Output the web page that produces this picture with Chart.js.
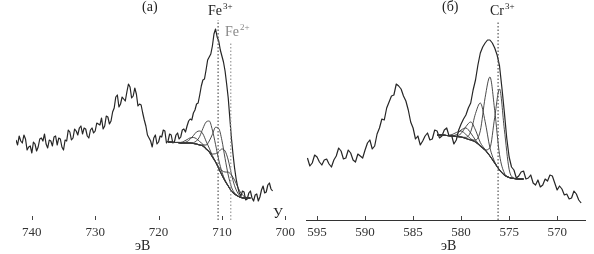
<!DOCTYPE html>
<html>
<head>
<meta charset="utf-8">
<script src="https://cdn.jsdelivr.net/npm/chart.js@4"></script>
<style>
  body { margin: 0; background: #fff; }
  #wrap { position: relative; width: 594px; height: 254px; font-family: 'Liberation Serif', serif; }
  canvas { position: absolute; top: 0; }
  .lbl { position: absolute; font-size: 14px; line-height: 14px; color: #222; white-space: nowrap; }
  .lbl sup { font-size: 9px; vertical-align: 0; position: relative; top: -6px; margin-left: 1px; }
</style>
</head>
<body>
<div id="wrap">
  <canvas id="fe" width="300" height="254" style="left:0"></canvas>
  <canvas id="cr" width="294" height="254" style="left:300px"></canvas>
  <div class="lbl" style="left:142px;top:0">(a)</div>
  <div class="lbl" style="left:208px;top:4px">Fe<sup>3+</sup></div>
  <div class="lbl" style="left:225px;top:25px;color:#888">Fe<sup>2+</sup></div>
  <div class="lbl" style="left:273px;top:207px">У</div>
  <div class="lbl" style="left:135px;top:239px">эВ</div>
  <div class="lbl" style="left:442px;top:0">(б)</div>
  <div class="lbl" style="left:490px;top:4px">Cr<sup>3+</sup></div>
  <div class="lbl" style="left:441px;top:239px">эВ</div>
</div>
<script>
// Fe 2p spectrum, 742.5 -> 702.0 eV, step 0.25
const feStart = 742.5
const feSpectrum = [
  80, 75, 84, 79, 77, 85, 81, 70, 73, 74, 67, 78, 76, 69, 73, 81, 82, 79, 86, 76,
  72, 80, 79, 74, 83, 84, 75, 82, 81, 73, 70, 80, 79, 90, 88, 80, 82, 91, 89, 85,
  92, 94, 86, 92, 91, 84, 82, 90, 92, 87, 89, 97, 96, 95, 102, 91, 94, 104, 103, 96,
  99, 108, 112, 123, 125, 113, 116, 123, 121, 119, 128, 136, 133, 122, 124, 132, 126, 114, 116, 115,
  107, 100, 94, 85, 82, 79, 73, 82, 85, 76, 78, 84, 83, 90, 89, 77, 79, 86, 85, 77,
  78, 85, 87, 81, 83, 90, 91, 88, 94, 99, 101, 100, 107, 110, 116, 117, 125, 134, 140, 141,
  150, 160, 163, 166, 174, 186, 191, 183, 179, 170, 164, 158, 149, 136, 122, 102, 82, 66, 52, 41,
  33, 27, 24, 29, 28, 20, 21, 27, 29, 22, 19, 25, 26, 19, 23, 30, 34, 27, 28, 35,
  37, 31, 29
]
// Fe fit components, 718.5 -> 705.5 eV, step 0.5
const feFitStart = 718.5
const feBackground = [78, 78, 77.5, 77.5, 77, 77, 77, 77, 76.5, 76, 75, 74, 71, 68, 63, 58, 51.5, 45, 39, 34, 29, 26, 24, 22.5, 22, 22, 22]
const feComponents = [
  [78, 78, 77.5, 77.7, 77.6, 78.7, 80.4, 82.2, 82.5, 81.2, 78.4, 75.7, 71.6, 68.2, 63, 58, 51.5, 45, 39, 34, 29, 26, 24, 22.5, 22, 22, 22],
  [78, 78, 77.5, 77.5, 77, 77.4, 78.4, 80.9, 84.4, 88.1, 89, 86.1, 78.9, 71.9, 64.4, 58.4, 51.5, 45, 39, 34, 29, 26, 24, 22.5, 22, 22, 22],
  [78, 78, 77.5, 77.5, 77, 77, 77, 77, 77.4, 79.1, 83.6, 91.5, 97.9, 99, 89.9, 75.5, 60.1, 48.1, 39.9, 34, 29, 26, 24, 22.5, 22, 22, 22],
  [78, 78, 77.5, 77.5, 77, 77, 77, 77, 76.5, 76, 75, 75.1, 75, 79, 85.6, 92.7, 91.5, 79.7, 61.6, 45, 33, 27.1, 24, 22.5, 22, 22, 22],
  [78, 78, 77.5, 77.5, 77, 77, 77, 77, 76.5, 76, 75, 74, 71, 68.8, 66, 66.3, 68.4, 71, 69, 60, 45.9, 34.3, 27, 23.3, 22, 22, 22],
  [78, 78, 77.5, 77.5, 77, 77, 77, 77, 76.5, 76, 75, 74, 71, 68, 63, 58.4, 53.1, 49.4, 48, 47.9, 45, 39.9, 33, 26.9, 23.6, 22.4, 22]
]
const feTicks = [740, 730, 720, 710, 700]
const feMarkers = { fe3: 710.6, fe2: 708.6 }

// Cr 2p spectrum, 596.0 -> 567.5 eV, step 0.25
const crStart = 596.0
const crSpectrum = [
  62, 54, 57, 65, 63, 58, 55, 60, 61, 56, 53, 60, 64, 72, 69, 61, 62, 70, 67, 60,
  58, 66, 64, 62, 70, 77, 80, 71, 74, 86, 92, 101, 100, 112, 118, 124, 125, 136, 134, 131,
  124, 119, 110, 98, 92, 81, 84, 75, 79, 84, 87, 80, 81, 90, 89, 82, 84, 90, 92, 84,
  85, 76, 80, 90, 96, 101, 105, 112, 117, 130, 140, 155, 167, 173, 177, 180, 180, 177, 172, 165,
  154, 132, 108, 82, 63, 53, 50, 42, 44, 48, 49, 41, 42, 45, 37, 35, 40, 33, 35, 41,
  39, 45, 44, 37, 30, 34, 31, 25, 26, 21, 22, 29, 26, 20, 17
]
// Cr fit components, 582.5 -> 573.5 eV, step 0.5
const crFitStart = 582.5
const crBackground = [85, 85, 84.5, 84, 83.5, 83, 81.5, 80, 78, 74, 70, 64, 57, 50, 45, 42.5, 41.5, 41, 41]
const crComponents = [
  [85, 85, 84.5, 84, 83.5, 83, 81.5, 80, 80, 89.3, 122.4, 143, 109.4, 65.3, 47, 42.5, 41.5, 41, 41],
  [85, 85, 84.5, 84, 83.5, 83, 81.5, 80, 78, 74, 70, 72.2, 102.7, 131, 90.7, 50.7, 42, 41, 41],
  [85, 85, 84.5, 84, 83.5, 83, 82.6, 88.3, 106.5, 117, 98.5, 72.3, 58.1, 50, 45, 42.5, 41.5, 41, 41],
  [85, 85, 84.5, 84, 84, 86.5, 93.4, 98, 89.9, 77.5, 70.5, 64, 57, 50, 45, 42.5, 41.5, 41, 41],
  [85, 85, 84.5, 84.3, 85.4, 90, 92, 87, 79.9, 74.3, 70, 64, 57, 50, 45, 42.5, 41.5, 41, 41],
  [85, 85, 84.5, 85.2, 87.5, 89, 85.5, 81.2, 78, 74, 70, 64, 57, 50, 45, 42.5, 41.5, 41, 41]
]
const crTicks = [595, 590, 585, 580, 575, 570]
const crMarker = 576.15

const toPoints = (vals, start, step) => vals.map((v, i) => ({ x: start - step * i, y: v }))

// tick marks point up into the plot
const innerTicks = {
  id: 'innerTicks',
  afterDraw(chart) {
    const sx = chart.scales.x, ctx = chart.ctx, b = chart.chartArea.bottom
    ctx.save()
    ctx.strokeStyle = '#444'
    ctx.lineWidth = 1
    sx.ticks.forEach(t => {
      const p = Math.round(sx.getPixelForValue(t.value)) + 0.5
      ctx.beginPath()
      ctx.moveTo(p, b)
      ctx.lineTo(p, b - 4)
      ctx.stroke()
    })
    ctx.restore()
  }
}

function spectrumSet(points) {
  return { data: points, borderColor: '#262626', borderWidth: 1.2, pointRadius: 0, tension: 0, borderJoinStyle: 'round' }
}
function fitSet(points, w) {
  return { data: points, borderColor: '#383838', borderWidth: w, pointRadius: 0, cubicInterpolationMode: 'monotone' }
}
function markerSet(x, top, color) {
  return { data: [{ x: x, y: 0 }, { x: x, y: top }], borderColor: color, borderWidth: 1.2, borderDash: [1.5, 2], pointRadius: 0 }
}

function makeChart(id, cfg) {
  return new Chart(document.getElementById(id), {
    type: 'line',
    data: { datasets: cfg.datasets },
    options: {
      responsive: false,
      animation: false,
      layout: { padding: cfg.padding },
      plugins: { legend: { display: false }, tooltip: { enabled: false } },
      scales: {
        x: {
          type: 'linear',
          reverse: true,
          min: cfg.min,
          max: cfg.max,
          afterBuildTicks: a => { a.ticks = cfg.ticks.map(v => ({ value: v })) },
          afterFit: a => { a.height = 34 },
          grid: { display: false, drawTicks: false },
          border: { display: cfg.axisLine, color: '#333', width: 1 },
          ticks: { padding: 5, color: '#333', autoSkip: false, maxRotation: 0, font: { family: 'Liberation Serif', size: 13 } }
        },
        y: { display: false, min: 0, max: 220 }
      }
    },
    plugins: [innerTicks]
  })
}

makeChart('fe', {
  min: 700, max: 742.5, ticks: feTicks, axisLine: false,
  padding: { left: 16, right: 12, top: 0, bottom: 0 },
  datasets: [
    markerSet(feMarkers.fe3, 200, '#555'),
    markerSet(feMarkers.fe2, 178, '#999'),
    fitSet(toPoints(feBackground, feFitStart, 0.5), 1.1),
    ...feComponents.map(c => fitSet(toPoints(c, feFitStart, 0.5), 0.9)),
    spectrumSet(toPoints(feSpectrum, feStart, 0.25))
  ]
})

makeChart('cr', {
  min: 567.1, max: 596.15, ticks: crTicks, axisLine: true,
  padding: { left: 6, right: 9, top: 0, bottom: 0 },
  datasets: [
    markerSet(crMarker, 198, '#555'),
    fitSet(toPoints(crBackground, crFitStart, 0.5), 1.1),
    ...crComponents.map(c => fitSet(toPoints(c, crFitStart, 0.5), 0.9)),
    spectrumSet(toPoints(crSpectrum, crStart, 0.25))
  ]
})
</script>
</body>
</html>
